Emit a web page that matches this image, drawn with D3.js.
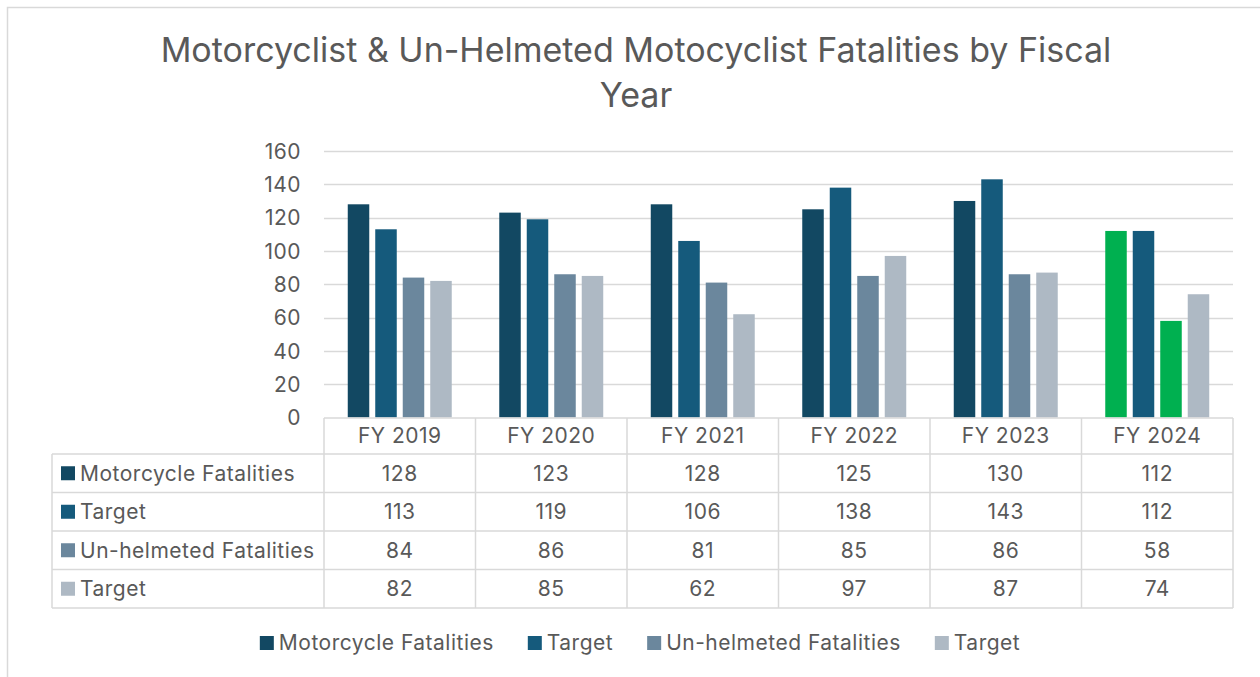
<!DOCTYPE html>
<html>
<head>
<meta charset="utf-8">
<script src="https://cdn.jsdelivr.net/npm/d3@7"></script>
<style>
  body { margin: 0; background: #fff; }
  svg text { font-family: Inter, "Open Sans", sans-serif; fill: #595959; }
  .lbl { font-size: 21px; letter-spacing: 0.5px; }
</style>
</head>
<body>
<svg id="chart"></svg>
<script>
// chart data
var years = ["FY 2019", "FY 2020", "FY 2021", "FY 2022", "FY 2023", "FY 2024"];
var seriesNames = ["Motorcycle Fatalities", "Target", "Un-helmeted Fatalities", "Target"];
var motorcycleFatalities = [128, 123, 128, 125, 130, 112];
var motorcycleTarget = [113, 119, 106, 138, 143, 112];
var unhelmetedFatalities = [84, 86, 81, 85, 86, 58];
var unhelmetedTarget = [82, 85, 62, 97, 87, 74];
var yTicks = [0, 20, 40, 60, 80, 100, 120, 140, 160];
var titleLines = ["Motorcyclist & Un-Helmeted Motocyclist Fatalities by Fiscal", "Year"];

var allSeries = [motorcycleFatalities, motorcycleTarget, unhelmetedFatalities, unhelmetedTarget];
var colors = ["#124862", "#155a7c", "#6b879d", "#aeb9c4"];
var green = "#00b050";
// FY 2024 bars that were highlighted green in the original
var highlight = { year: "FY 2024", series: [0, 2] };

var W = 1260, H = 677;
var m = { left: 324, right: 27, top: 151, bottom: 259 };

var svg = d3.select("#chart").attr("width", W).attr("height", H);

// outer chart border
svg.append("rect")
    .attr("x", 7.5).attr("y", 7.5)
    .attr("width", W + 20).attr("height", H + 20)
    .attr("fill", "#fff")
    .attr("stroke", "#d9d9d9")
    .attr("stroke-width", 1.5);

// title
var title = svg.append("text")
    .attr("text-anchor", "middle")
    .style("font-size", "34px");
titleLines.forEach(function (t, i) {
    title.append("tspan")
        .attr("x", 636)
        .attr("y", 62 + i * 45)
        .text(t);
});

// scales
var x = d3.scaleBand()
    .domain(years)
    .range([m.left, W - m.right]);
var xs = d3.scaleBand()
    .domain(d3.range(allSeries.length))
    .range([0, x.bandwidth()])
    .paddingInner(0.218)
    .paddingOuter(0.864);
var y = d3.scaleLinear()
    .domain([0, 160])
    .range([417.5, 151]);

// gridlines
svg.append("g")
    .selectAll("line")
    .data(yTicks.slice(1))
    .join("line")
    .attr("x1", m.left).attr("x2", W - m.right)
    .attr("y1", function (d) { return Math.round(y(d)) + 0.5; })
    .attr("y2", function (d) { return Math.round(y(d)) + 0.5; })
    .attr("stroke", "#d9d9d9")
    .attr("stroke-width", 1.5);

// y axis labels
var gY = svg.append("g")
    .attr("transform", "translate(" + (m.left - 23) + ",0)")
    .call(d3.axisLeft(y).tickValues(yTicks).tickSize(0).tickPadding(0));
gY.select(".domain").remove();
gY.selectAll("text")
    .attr("class", "lbl")
    .attr("fill", "#595959")
    .attr("dy", "0.35em")
    .style("font-family", "Inter, sans-serif");

// bars
var groups = svg.append("g")
    .selectAll("g")
    .data(years)
    .join("g")
    .attr("transform", function (d) { return "translate(" + x(d) + ",0)"; });

groups.selectAll("rect")
    .data(function (yr, i) {
        return allSeries.map(function (s, k) { return { year: yr, k: k, v: s[i] }; });
    })
    .join("rect")
    .attr("x", function (d) { return xs(d.k); })
    .attr("width", xs.bandwidth())
    .attr("y", function (d) { return y(d.v); })
    .attr("height", function (d) { return y(0) - y(d.v); })
    .attr("fill", function (d) {
        if (d.year === highlight.year && highlight.series.indexOf(d.k) >= 0) return green;
        return colors[d.k];
    });

// data table
var tableLeft = 52;
var headerTop = 418, headerBottom = 454;
var rowH = 38.5;
var rowTops = allSeries.map(function (s, i) { return headerBottom + i * rowH; });
var tableBottom = headerBottom + allSeries.length * rowH;
var tbl = svg.append("g");
var border = "#d9d9d9";

function hline(x1, x2, yy) {
    tbl.append("line").attr("x1", x1).attr("x2", x2).attr("y1", yy).attr("y2", yy)
        .attr("stroke", border).attr("stroke-width", 1.5);
}
function vline(xx, y1, y2) {
    tbl.append("line").attr("x1", xx).attr("x2", xx).attr("y1", y1).attr("y2", y2)
        .attr("stroke", border).attr("stroke-width", 1.5);
}

hline(m.left, W - m.right, headerTop);
hline(tableLeft, W - m.right, headerBottom);
rowTops.forEach(function (t, i) { hline(tableLeft, W - m.right, t + rowH); });
vline(tableLeft, headerBottom, tableBottom);
years.forEach(function (yr) { vline(x(yr), headerTop, tableBottom); });
vline(W - m.right, headerTop, tableBottom);

// header labels
tbl.selectAll("text.hdr")
    .data(years)
    .join("text")
    .attr("class", "hdr lbl")
    .attr("x", function (d) { return x(d) + x.bandwidth() / 2; })
    .attr("y", (headerTop + headerBottom) / 2)
    .attr("dy", "0.35em")
    .attr("text-anchor", "middle")
    .text(function (d) { return d; });

// rows
allSeries.forEach(function (s, k) {
    var cy = rowTops[k] + rowH / 2;
    tbl.append("rect")
        .attr("x", 61).attr("y", cy - 7)
        .attr("width", 14).attr("height", 14)
        .attr("fill", colors[k]);
    tbl.append("text")
        .attr("class", "lbl")
        .attr("x", 80).attr("y", cy)
        .attr("dy", "0.35em")
        .text(seriesNames[k]);
    tbl.selectAll(null)
        .data(s)
        .join("text")
        .attr("class", "lbl")
        .attr("x", function (d, i) { return x(years[i]) + x.bandwidth() / 2; })
        .attr("y", cy)
        .attr("dy", "0.35em")
        .attr("text-anchor", "middle")
        .text(function (d) { return d; });
});

// legend
var legend = svg.append("g");
var lx = 0;
seriesNames.forEach(function (name, k) {
    var g = legend.append("g");
    g.append("rect")
        .attr("x", 0).attr("y", -7)
        .attr("width", 14).attr("height", 14)
        .attr("fill", colors[k]);
    var t = g.append("text")
        .attr("class", "lbl")
        .attr("x", 19)
        .attr("dy", "0.35em")
        .text(name);
    var w = 19 + t.node().getComputedTextLength();
    g.attr("transform", "translate(" + lx + ",0)");
    lx += w + 34;
});
var legendW = lx - 34;
legend.attr("transform", "translate(" + (640 - legendW / 2) + ",643)");
</script>
</body>
</html>
